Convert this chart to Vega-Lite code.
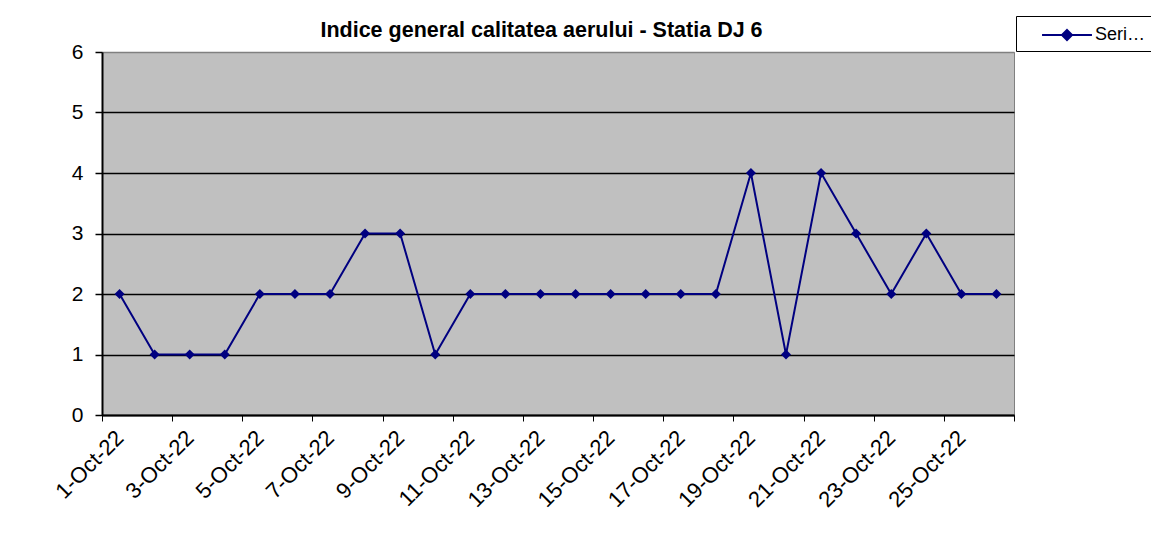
{
  "$schema": "https://vega.github.io/schema/vega-lite/v6.json",
  "width": 912,
  "height": 363,
  "autosize": "none",
  "padding": {"left": 102, "top": 52, "right": 137, "bottom": 133},
  "background": "white",
  "data": {
    "values": [
      {"date": "2022-10-01", "value": 2, "series": "Series1"},
      {"date": "2022-10-02", "value": 1, "series": "Series1"},
      {"date": "2022-10-03", "value": 1, "series": "Series1"},
      {"date": "2022-10-04", "value": 1, "series": "Series1"},
      {"date": "2022-10-05", "value": 2, "series": "Series1"},
      {"date": "2022-10-06", "value": 2, "series": "Series1"},
      {"date": "2022-10-07", "value": 2, "series": "Series1"},
      {"date": "2022-10-08", "value": 3, "series": "Series1"},
      {"date": "2022-10-09", "value": 3, "series": "Series1"},
      {"date": "2022-10-10", "value": 1, "series": "Series1"},
      {"date": "2022-10-11", "value": 2, "series": "Series1"},
      {"date": "2022-10-12", "value": 2, "series": "Series1"},
      {"date": "2022-10-13", "value": 2, "series": "Series1"},
      {"date": "2022-10-14", "value": 2, "series": "Series1"},
      {"date": "2022-10-15", "value": 2, "series": "Series1"},
      {"date": "2022-10-16", "value": 2, "series": "Series1"},
      {"date": "2022-10-17", "value": 2, "series": "Series1"},
      {"date": "2022-10-18", "value": 2, "series": "Series1"},
      {"date": "2022-10-19", "value": 4, "series": "Series1"},
      {"date": "2022-10-20", "value": 1, "series": "Series1"},
      {"date": "2022-10-21", "value": 4, "series": "Series1"},
      {"date": "2022-10-22", "value": 3, "series": "Series1"},
      {"date": "2022-10-23", "value": 2, "series": "Series1"},
      {"date": "2022-10-24", "value": 3, "series": "Series1"},
      {"date": "2022-10-25", "value": 2, "series": "Series1"},
      {"date": "2022-10-26", "value": 2, "series": "Series1"}
    ]
  },
  "encoding": {
    "y": {
      "field": "value",
      "type": "quantitative",
      "scale": {"domain": [0, 6], "nice": false},
      "axis": {
        "title": null,
        "values": [0, 1, 2, 3, 4, 5, 6],
        "labelFont": "Liberation Sans",
        "labelFontSize": 21,
        "labelColor": "black",
        "labelPadding": 12,
        "domainColor": "black",
        "domainWidth": 2,
        "tickColor": "black",
        "tickWidth": 1.5,
        "tickSize": 7,
        "grid": true,
        "gridColor": {"condition": {"test": "datum.value == 6", "value": "#808080"}, "value": "black"},
        "gridWidth": 1.5,
        "gridOpacity": 1
      }
    },
    "color": {
      "field": "series",
      "type": "nominal",
      "scale": {"range": ["#000080"]},
      "legend": {
        "title": null,
        "orient": "none",
        "legendX": 914,
        "legendY": -36,
        "strokeColor": "black",
        "fillColor": "white",
        "padding": 6,
        "symbolType": "M-2.08,0H2.08M0,-0.42L0.42,0L0,0.42L-0.42,0Z",
        "symbolSize": 576,
        "symbolOffset": 32,
        "symbolStrokeWidth": 2,
        "symbolStrokeColor": "#000080",
        "symbolFillColor": "#000080",
        "labelOffset": 15,
        "labelFont": "Liberation Sans",
        "labelFontSize": 18,
        "labelColor": "black",
        "labelLimit": 52
      }
    }
  },
  "layer": [
    {
      "mark": {"type": "line", "strokeWidth": 2},
      "encoding": {
        "x": {
          "field": "date",
          "type": "temporal",
          "scale": {
            "type": "utc",
            "nice": false,
            "domain": [
              {"year": 2022, "month": 9, "date": 30, "hours": 12, "utc": true},
              {"year": 2022, "month": 10, "date": 26, "hours": 12, "utc": true}
            ]
          },
          "axis": {
            "title": null,
            "orient": "bottom",
            "values": [
              {"year": 2022, "month": 9, "date": 30, "hours": 12, "utc": true},
              {"year": 2022, "month": 10, "date": 2, "hours": 12, "utc": true},
              {"year": 2022, "month": 10, "date": 4, "hours": 12, "utc": true},
              {"year": 2022, "month": 10, "date": 6, "hours": 12, "utc": true},
              {"year": 2022, "month": 10, "date": 8, "hours": 12, "utc": true},
              {"year": 2022, "month": 10, "date": 10, "hours": 12, "utc": true},
              {"year": 2022, "month": 10, "date": 12, "hours": 12, "utc": true},
              {"year": 2022, "month": 10, "date": 14, "hours": 12, "utc": true},
              {"year": 2022, "month": 10, "date": 16, "hours": 12, "utc": true},
              {"year": 2022, "month": 10, "date": 18, "hours": 12, "utc": true},
              {"year": 2022, "month": 10, "date": 20, "hours": 12, "utc": true},
              {"year": 2022, "month": 10, "date": 22, "hours": 12, "utc": true},
              {"year": 2022, "month": 10, "date": 24, "hours": 12, "utc": true},
              {"year": 2022, "month": 10, "date": 26, "hours": 12, "utc": true}
            ],
            "labelExpr": "datum.index >= 1 ? '' : utcFormat(datum.value + 43200000, '%-d-%b-%y')",
            "labelOffset": 17.5,
            "labelAngle": -45,
            "labelAlign": "right",
            "labelBaseline": "middle",
            "labelPadding": 13,
            "labelFont": "Liberation Sans",
            "labelFontSize": 22,
            "labelColor": "black",
            "labelOverlap": false,
            "labelFlush": false,
            "domainColor": "black",
            "domainWidth": 2,
            "tickColor": "black",
            "tickWidth": 1,
            "tickSize": 6,
            "grid": false
          }
        }
      }
    },
    {
      "mark": {"type": "point", "shape": "diamond", "filled": true, "size": 100, "opacity": 1},
      "encoding": {
        "x": {
          "field": "date",
          "type": "temporal",
          "axis": {
            "orient": "top",
            "title": "Indice general calitatea aerului - Statia DJ 6",
            "titleFont": "Liberation Sans",
            "titleFontSize": 21.5,
            "titleFontWeight": "bold",
            "titleColor": "black",
            "titleAlign": "center",
            "titleBaseline": "alphabetic",
            "titleX": 439,
            "titleY": -16,
            "labels": false,
            "ticks": false,
            "domain": false,
            "grid": false
          }
        }
      }
    }
  ],
  "resolve": {"axis": {"x": "independent"}},
  "config": {
    "view": {"fill": "#C0C0C0", "stroke": "#808080", "strokeWidth": 1}
  }
}
